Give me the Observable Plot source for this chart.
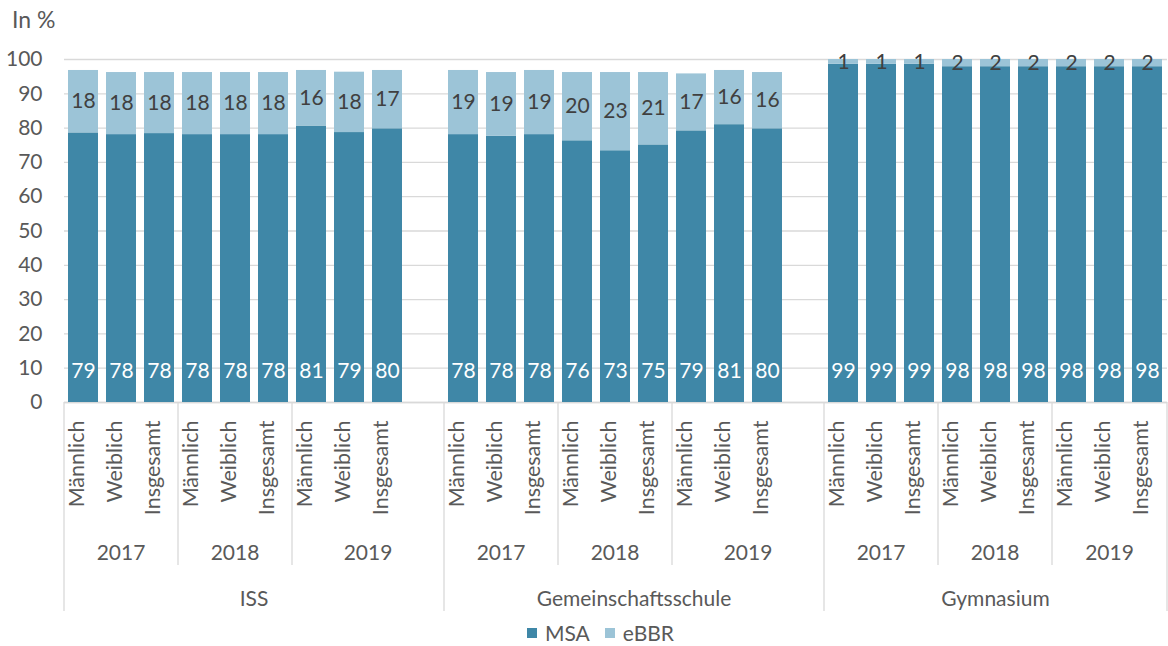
<!DOCTYPE html>
<html>
<head>
<meta charset="utf-8">
<script src="https://cdn.jsdelivr.net/npm/d3@7"></script>
<script src="https://cdn.jsdelivr.net/npm/@observablehq/plot@0.6"></script>
<style>
  html, body { margin: 0; padding: 0; background: #fff; }
  body { width: 1168px; height: 646px; position: relative; overflow: hidden; font-family: Lato, "Liberation Sans", sans-serif; }
  #ylabel { position: absolute; left: 12px; top: 5px; font-size: 23px; color: #595959; z-index: 2; }
  #chart { position: absolute; left: 0; top: 0; z-index: 1; }
  #legend { position: absolute; left: 527px; top: 620px; font-size: 21px; color: #595959; display: flex; align-items: center; z-index: 2; }
  #legend .sw { display: inline-block; width: 10px; height: 10px; margin-right: 8px; }
  #legend .item { display: flex; align-items: center; margin-right: 15px; }
</style>
</head>
<body>
<div id="ylabel">In %</div>
<div id="chart"></div>
<div id="legend"></div>
<script>
// ---- Data ----
const schools = ["ISS", "Gemeinschaftsschule", "Gymnasium"];
const years = ["2017", "2018", "2019"];
const genders = ["Männlich", "Weiblich", "Insgesamt"];
const seriesNames = ["MSA", "eBBR"];
const seriesColors = ["#3f87a7", "#9cc4d7"];
const yTicks = [0, 10, 20, 30, 40, 50, 60, 70, 80, 90, 100];

// MSA share (%), order: school > year > gender
const msa = [
  78.6, 78.1, 78.4, 78.1, 78.1, 78.1, 80.6, 78.7, 79.8,
  78.1, 77.6, 78.1, 76.3, 73.4, 75.1, 79.2, 81.0, 79.8,
  98.6, 98.6, 98.6, 97.9, 97.9, 97.9, 97.9, 97.9, 97.9
];
// eBBR share (%)
const ebbr = [
  18.2, 18.1, 17.8, 18.1, 18.1, 18.1, 16.2, 17.6, 17.0,
  18.7, 18.6, 18.7, 19.9, 22.8, 21.1, 16.6, 15.8, 16.4,
  1.4, 1.4, 1.4, 2.1, 2.1, 2.1, 2.1, 2.1, 2.1
];

// ---- Build table ----
const fmt = d3.format(".0f");
const domain = [];
const cats = [];
const rows = [];
schools.forEach((s, si) => {
  years.forEach((y, yi) => {
    genders.forEach((g, gi) => {
      const i = si * 9 + yi * 3 + gi;
      const key = `${s}|${y}|${g}`;
      domain.push(key);
      cats.push({key, school: s, year: y, gender: g});
      rows.push({key, series: seriesNames[0], value: msa[i]});
      rows.push({key, series: seriesNames[1], value: ebbr[i]});
    });
  });
  if (si < schools.length - 1) domain.push(`${s}|gap`);
});

const GRID = "#d9d9d9";
const TEXT = "#595959";

const plot = Plot.plot({
  width: 1168,
  height: 620,
  marginTop: 59,
  marginBottom: 218,
  marginLeft: 64,
  marginRight: 1,
  style: {fontFamily: "Lato, 'Liberation Sans', sans-serif", fontSize: "21px", color: TEXT, background: "transparent", overflow: "visible"},
  x: {domain, paddingInner: 0.21, paddingOuter: 0.105, axis: null},
  y: {domain: [0, 100], axis: null},
  color: {domain: seriesNames, range: seriesColors},
  marks: [
    Plot.gridY(yTicks, {stroke: GRID, strokeOpacity: 1, strokeWidth: 1.3}),
    Plot.axisY(yTicks, {tickSize: 0, tickPadding: 22, fontSize: 21, label: null, fill: TEXT}),
    Plot.ruleY([0], {stroke: GRID, strokeWidth: 1.3}),
    Plot.barY(rows, {x: "key", y: "value", fill: "series", order: seriesNames}),
    Plot.text(rows.filter(d => d.series === seriesNames[0]), {
      x: "key", text: d => fmt(d.value), frameAnchor: "bottom", dy: -25,
      fill: "white", fontSize: 21
    }),
    Plot.text(rows, Plot.stackY({
      x: "key", y: "value", z: "series", order: seriesNames,
      text: d => d.series === seriesNames[1] ? fmt(d.value) : null,
      fill: "#404040", fontSize: 21
    })),
    Plot.text(cats, {
      x: "key", text: "gender", frameAnchor: "bottom", rotate: -90,
      textAnchor: "end", dy: 18, fill: TEXT, fontSize: 21.5
    })
  ]
});
document.getElementById("chart").appendChild(plot);

// ---- Hierarchical category axis (school / year), using Plot's x scale ----
const xs = plot.scale("x");
const ys = plot.scale("y");
const bw = xs.bandwidth;
const step = xs.step || bw / (1 - 0.21);
const slotStart = key => xs.apply(key) - (step - bw) / 2;
const xEnd = xs.range[1];
const y0 = ys.apply(0);

const svg = d3.select(plot);
const g = svg.append("g");
function vline(x, len) {
  g.append("line").attr("x1", x).attr("x2", x).attr("y1", y0).attr("y2", y0 + len)
    .attr("stroke", GRID).attr("stroke-width", 1.3);
}
function label(x, y, t) {
  g.append("text").attr("x", x).attr("y", y).attr("text-anchor", "middle")
    .attr("dominant-baseline", "central").attr("fill", TEXT).attr("font-size", 21).text(t);
}
schools.forEach((s, si) => {
  const sStart = slotStart(`${s}|${years[0]}|${genders[0]}`);
  const sEnd = si < schools.length - 1 ? slotStart(`${schools[si + 1]}|${years[0]}|${genders[0]}`) : xEnd;
  vline(sStart, 209);
  label((sStart + sEnd) / 2, y0 + 195, s);
  years.forEach((y, yi) => {
    const yStart = slotStart(`${s}|${y}|${genders[0]}`);
    const yEnd = yi < years.length - 1 ? slotStart(`${s}|${years[yi + 1]}|${genders[0]}`) : sEnd;
    if (yi > 0) vline(yStart, 163);
    label((yStart + yEnd) / 2, y0 + 149, y);
  });
});
vline(xEnd, 209);

// ---- Legend ----
const legend = d3.select("#legend");
seriesNames.forEach((n, i) => {
  const item = legend.append("span").attr("class", "item");
  item.append("span").attr("class", "sw").style("background", seriesColors[i]);
  item.append("span").text(n);
});
</script>
</body>
</html>
